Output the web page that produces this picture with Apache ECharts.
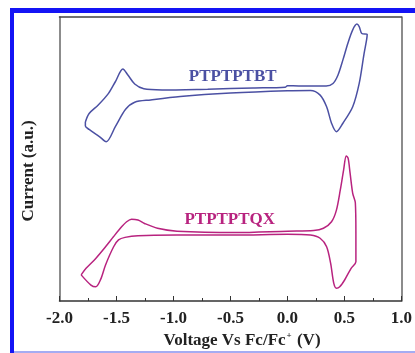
<!DOCTYPE html>
<html>
<head>
<meta charset="utf-8">
<script src="https://cdn.jsdelivr.net/npm/echarts@6/dist/echarts.min.js"></script>
<style>
  html, body { margin: 0; padding: 0; background: #fff; }
  #chart { width: 415px; height: 353px; }
</style>
</head>
<body>
<div id="chart"></div>
<script>
// CV loops (voltage vs Fc/Fc+, current in arbitrary units 0..10)
const btVoltage = [-1.773, -1.74, -1.66, -1.57, -1.51, -1.444, -1.40, -1.34, -1.26, -1.10, -0.70, -0.30, -0.02, 0.00, 0.10, 0.34, 0.40, 0.444, 0.487, 0.53, 0.572, 0.61, 0.63, 0.653, 0.70,
  0.695, 0.673, 0.63, 0.573, 0.487, 0.43, 0.387, 0.344, 0.287, 0.202, 0.00, -0.50, -0.94, -1.20, -1.34, -1.42, -1.51, -1.59, -1.65, -1.74, -1.773, -1.773];
const btCurrent = [6.30, 6.60, 6.90, 7.31, 7.72, 8.17, 7.96, 7.64, 7.47, 7.43, 7.46, 7.50, 7.53, 7.58, 7.57, 7.57, 7.66, 7.96, 8.49, 9.07, 9.54, 9.75, 9.66, 9.42, 9.39,
  9.20, 8.72, 7.66, 6.84, 6.26, 5.96, 6.26, 6.84, 7.25, 7.41, 7.40, 7.32, 7.20, 7.08, 7.00, 6.75, 6.14, 5.61, 5.79, 6.04, 6.16, 6.30];

const qxVoltage = [-1.81, -1.767, -1.682, -1.596, -1.525, -1.453, -1.411, -1.368, -1.311, -1.254, -1.14, -0.969, -0.455, 0.002, 0.23, 0.316, 0.387, 0.43, 0.464, 0.493, 0.516, 0.533, 0.55, 0.573, 0.596, 0.601, 0.601,
  0.559, 0.502, 0.459, 0.43, 0.407, 0.379, 0.344, 0.287, 0.202, 0.002, -0.455, -0.969, -1.311, -1.425, -1.482, -1.525, -1.596, -1.639, -1.682, -1.724, -1.81];
const qxCurrent = [0.92, 1.15, 1.50, 1.91, 2.27, 2.62, 2.79, 2.88, 2.85, 2.73, 2.56, 2.46, 2.41, 2.46, 2.48, 2.56, 2.79, 3.20, 3.91, 4.61, 5.11, 5.02, 4.50, 3.79, 3.46, 2.38, 1.38,
  1.15, 0.74, 0.50, 0.45, 0.62, 1.33, 1.91, 2.21, 2.32, 2.35, 2.32, 2.32, 2.30, 2.24, 2.15, 1.91, 1.27, 0.76, 0.50, 0.56, 0.92];

const labelNames = ['PTPTPTBT', 'PTPTPTQX'];
const labelVoltage = [-0.48, -0.506];
const labelCurrent = [7.89, 2.85];

const serif = "'Liberation Serif', 'Times New Roman', 'DejaVu Serif', serif";
const blue = '#4b50a3';
const magenta = '#b8237f';

function pairs(xs, ys) {
  return xs.map((x, i) => [x, ys[i]]);
}

function tag(i, color) {
  return {
    symbol: 'rect',
    symbolSize: 1,
    silent: true,
    itemStyle: { color: 'rgba(0,0,0,0)' },
    label: {
      show: true, position: 'inside', formatter: labelNames[i],
      color: color, fontFamily: serif, fontWeight: 'bold', fontSize: 17
    },
    data: [{ coord: [labelVoltage[i], labelCurrent[i]] }]
  };
}

const plainAxis = {
  axisTick: { show: false }, axisLabel: { show: false }, splitLine: { show: false }
};

var chart = echarts.init(document.getElementById('chart'));

chart.setOption({
  animation: false,
  grid: { left: 59.5, right: 5, top: 17, bottom: 52 },
  xAxis: [{
    type: 'value', min: -2, max: 1, interval: 0.5, position: 'bottom',
    axisLine: { onZero: false, lineStyle: { color: '#333', width: 1.5 } },
    axisTick: { inside: true, length: 5, lineStyle: { color: '#333' } },
    minorTick: { show: true, splitNumber: 2, length: 3, lineStyle: { color: '#333' } },
    axisLabel: {
      formatter: v => v.toFixed(1), color: '#222', margin: 9,
      fontFamily: serif, fontWeight: 'bold', fontSize: 17
    },
    splitLine: { show: false }
  }, Object.assign({
    type: 'value', min: -2, max: 1, position: 'top',
    axisLine: { show: true, onZero: false, lineStyle: { color: '#444', width: 1.5 } }
  }, plainAxis)],
  yAxis: [Object.assign({
    type: 'value', min: 0, max: 10, position: 'left',
    axisLine: { show: true, onZero: false, lineStyle: { color: '#666', width: 1.5 } }
  }, plainAxis), Object.assign({
    type: 'value', min: 0, max: 10, position: 'right',
    axisLine: { show: true, onZero: false, lineStyle: { color: '#666', width: 1.5 } }
  }, plainAxis)],
  series: [{
    name: 'PTPTPTBT', type: 'line', data: pairs(btVoltage, btCurrent),
    showSymbol: false, smooth: 0.3,
    lineStyle: { color: blue, width: 1.5 },
    markPoint: tag(0, blue)
  }, {
    name: 'PTPTPTQX', type: 'line', data: pairs(qxVoltage, qxCurrent),
    showSymbol: false, smooth: 0.3,
    lineStyle: { color: magenta, width: 1.5 },
    markPoint: tag(1, magenta)
  }],
  graphic: [
    { type: 'rect', shape: { x: 10, y: 8, width: 405, height: 5 }, style: { fill: '#1414f5' } },
    { type: 'rect', shape: { x: 10, y: 8, width: 4, height: 345 }, style: { fill: '#1414f5' } },
    { type: 'rect', shape: { x: 14, y: 351, width: 401, height: 2 }, style: { fill: '#a4acf2' } },
    {
      type: 'text', x: 29, y: 171, rotation: Math.PI / 2,
      style: {
        text: 'Current (a.u.)', align: 'center', verticalAlign: 'middle',
        fill: '#222', font: "bold 17px " + serif
      }
    },
    {
      type: 'text', x: 242, y: 341,
      style: {
        text: 'Voltage Vs Fc/Fc{sup|+} (V)', align: 'center', verticalAlign: 'middle',
        fill: '#222', fontFamily: serif, fontWeight: 'bold', fontSize: 17,
        rich: { sup: { fontSize: 9, fontWeight: 'bold', fontFamily: serif, fill: '#222', padding: [0, 1, 10, 1] } }
      }
    }
  ]
});
</script>
</body>
</html>
